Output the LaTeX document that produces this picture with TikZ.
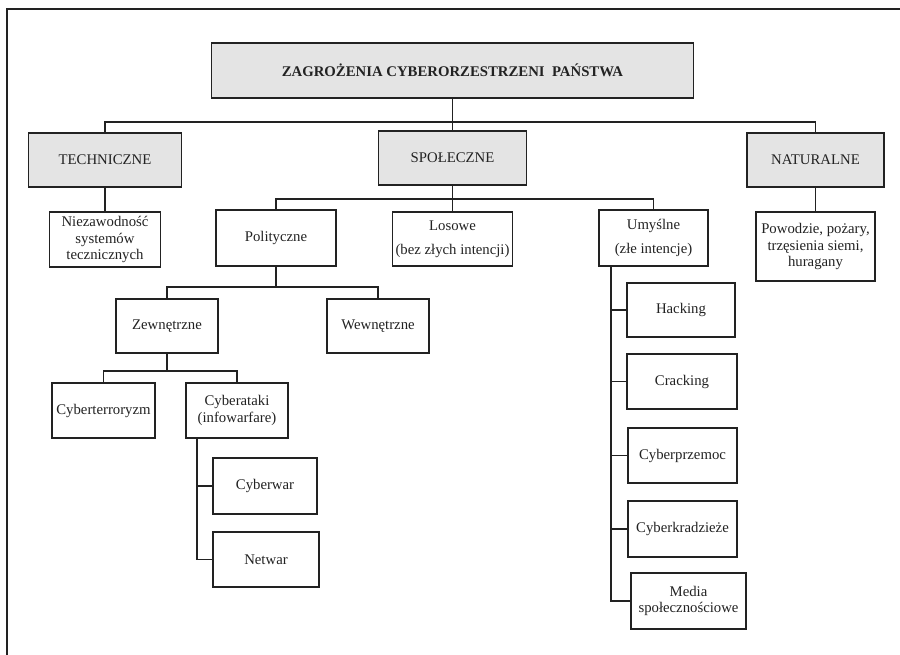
\documentclass[tikz,border=0pt]{standalone}
\usepackage{fontspec}
\setmainfont{Liberation Serif}
\usepackage{tikz}

\definecolor{boxgray}{RGB}{228,228,228}
\definecolor{inkcolor}{RGB}{34,34,34}

\tikzset{
  box/.style={draw=inkcolor, line width=1pt, align=center, inner sep=0pt,
    text=inkcolor, font=\fontsize{8.4}{9.5}\selectfont},
  graybox/.style={box, fill=boxgray},
  sz/.style 2 args={minimum width=#1*0.02cm, minimum height=#2*0.02cm},
  link/.style={draw=inkcolor, line width=0.9pt}
}

\begin{document}
\begin{tikzpicture}[x=0.02cm, y=-0.02cm]
    \useasboundingbox (0,0) rectangle (900,654);
    % frame, cut off on the right and at the bottom
    \draw[inkcolor, line width=1pt] (7,660) -- (7,9) -- (906,9);

    % top level
    \node[graybox, sz={482}{55}] (title) at (452.5,70.5)
      {\bfseries ZAGROŻENIA CYBERORZESTRZENI\ \ PAŃSTWA};
    \node[graybox, sz={153}{54}] (tech) at (105,160) {TECHNICZNE};
    \node[graybox, sz={148}{54}] (spol) at (452.5,158) {SPOŁECZNE};
    \node[graybox, sz={137}{54}] (nat) at (815.5,160) {NATURALNE};

    % second level
    \node[box, sz={111}{55}] (niez) at (105,239.5) {Niezawodność\\systemów\\tecznicznych};
    \node[box, sz={120}{56}] (pol) at (276,238) {Polityczne};
    \node[box, sz={120}{54}] (los) at (452.5,239) {Losowe\\[4pt](bez złych intencji)};
    \node[box, sz={109}{56}] (umy) at (653.5,238) {Umyślne\\[4pt](złe intencje)};
    \node[box, sz={119}{69}] (pow) at (815.5,246.5) {Powodzie, pożary,\\trzęsienia siemi,\\huragany};

    % political branch
    \node[box, sz={102}{54}] (zew) at (167,326) {Zewnętrzne};
    \node[box, sz={102}{54}] (wew) at (378,326) {Wewnętrzne};
    \node[box, sz={103}{55}] (cter) at (103.5,410.5) {Cyberterroryzm};
    \node[box, sz={102}{55}] (cata) at (237,410.5) {Cyberataki\\(infowarfare)};
    \node[box, sz={104}{56}] (cwar) at (265,486) {Cyberwar};
    \node[box, sz={106}{55}] (nwar) at (266,559.5) {Netwar};

    % intentional branch
    \node[box, sz={108}{54}] (hack) at (681,310) {Hacking};
    \node[box, sz={110}{55}] (crack) at (682,381.5) {Cracking};
    \node[box, sz={109}{55}] (cprz) at (682.5,455.5) {Cyberprzemoc};
    \node[box, sz={109}{56}] (ckra) at (682.5,529) {Cyberkradzieże};
    \node[box, sz={115}{56}] (media) at (688.5,601) {Media\\społecznościowe};

    % bus lines
    \coordinate (bus) at (452.5,122);
    \coordinate (sbus) at (452.5,199);
    \coordinate (pbus) at (276,287);
    \coordinate (zbus) at (167,371);
    \coordinate (cspine) at (197,438);
    \coordinate (uspine) at (611,266);

    \draw[link] (title.south) -- (spol.north);
    \draw[link] (tech.north) -- (tech.north |- bus) -| (nat.north);
    \draw[link] (tech.south) -- (niez.north);
    \draw[link] (nat.south) -- (pow.north);

    \draw[link] (spol.south) -- (los.north);
    \draw[link] (pol.north) -- (pol.north |- sbus) -| (umy.north);

    \draw[link] (pol.south) -- (pbus);
    \draw[link] (zew.north) |- (pbus) -| (wew.north);
    \draw[link] (zew.south) -- (zbus);
    \draw[link] (cter.north) |- (zbus) -| (cata.north);

    \draw[link] (cspine) |- (nwar.west);
    \draw[link] (cwar.west) -- (cwar.west -| cspine);

    \draw[link] (uspine) |- (media.west);
    \foreach \n in {hack,crack,cprz,ckra}
      \draw[link] (\n.west) -- (\n.west -| uspine);
\end{tikzpicture}
\end{document}
